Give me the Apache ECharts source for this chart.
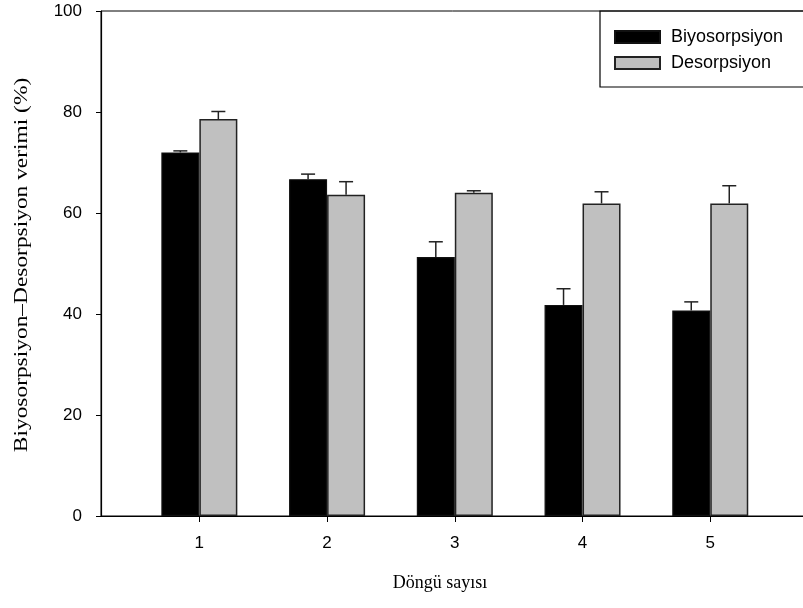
<!DOCTYPE html>
<html>
<head>
<meta charset="utf-8">
<script src="https://cdn.jsdelivr.net/npm/echarts@6/dist/echarts.min.js"></script>
<style>
html,body{margin:0;padding:0;background:#fff;}
#chart{width:803px;height:608px;}
</style>
</head>
<body>
<div id="chart"></div>
<script>
const categories = [1, 2, 3, 4, 5];
const biyoValues = [72.0, 66.7, 51.3, 41.8, 40.7];
const biyoErrors = [0.3, 1.0, 3.0, 3.2, 1.7];
const desoValues = [78.6, 63.6, 64.0, 61.9, 61.9];
const desoErrors = [1.5, 2.6, 0.4, 2.3, 3.5];
const yTicks = [0, 20, 40, 60, 80, 100];
const xTitle = 'Döngü sayısı';
const yTitle = 'Biyosorpsiyon–Desorpsiyon verimi (%)';

const BAR_W = 38;

function errSeries(values, errors, dx) {
  return {
    type: 'custom',
    z: 5,
    silent: true,
    data: categories.map((c, i) => [c, values[i], errors[i]]),
    encode: { x: 0, y: 1 },
    renderItem: function (params, api) {
      const x = api.value(0), y = api.value(1), e = api.value(2);
      const p0 = api.coord([x, y]);
      const p1 = api.coord([x, y + e]);
      const cx = p0[0] + dx;
      const style = { stroke: '#222', lineWidth: 1.5 };
      return {
        type: 'group',
        children: [
          { type: 'line', shape: { x1: cx, y1: p0[1], x2: cx, y2: p1[1] }, style: style },
          { type: 'line', shape: { x1: cx - 7, y1: p1[1], x2: cx + 7, y2: p1[1] }, style: style }
        ]
      };
    }
  };
}

const chart = echarts.init(document.getElementById('chart'));
chart.setOption({
  animation: false,
  backgroundColor: '#fff',
  grid: {
    left: 101, right: -12, top: 11, bottom: 92,
    outerBoundsMode: 'none',
    containLabel: false,
    show: true, borderColor: '#000', borderWidth: 1
  },
  graphic: [
    {
      type: 'text',
      x: 22, y: 265,
      rotation: Math.PI / 2,
      scaleX: 1.3,
      style: {
        text: yTitle,
        font: '18px "Liberation Serif", "Times New Roman", serif',
        fill: '#000',
        textAlign: 'center',
        textVerticalAlign: 'middle'
      }
    }
  ],
  legend: {
    orient: 'vertical',
    left: 600, top: 11,
    data: ['Biyosorpsiyon', 'Desorpsiyon'],
    itemWidth: 45, itemHeight: 12, itemGap: 8,
    borderColor: '#000', borderWidth: 1.2,
    padding: [17, 80, 15, 14],
    icon: 'rect',
    textStyle: { fontFamily: 'Liberation Sans, Arial', fontSize: 18, color: '#000', padding: [0, 0, 0, 6] }
  },
  xAxis: {
    type: 'value',
    min: 0.23, max: 5.82,
    name: xTitle,
    nameLocation: 'middle',
    nameGap: 58,
    nameTextStyle: { fontFamily: 'Liberation Serif, Times New Roman', fontSize: 18, color: '#000', padding: [0, 36, 0, 0] },
    splitLine: { show: false },
    axisLine: { show: true, onZero: false, lineStyle: { color: '#000', width: 1.2 } },
    axisTick: { show: true, customValues: categories, length: 6, lineStyle: { color: '#000' } },
    axisLabel: { customValues: categories, margin: 19, fontFamily: 'Liberation Sans, Arial', fontSize: 17, color: '#000' }
  },
  yAxis: {
    type: 'value',
    min: 0, max: 100, interval: 20,
    splitLine: { show: false },
    axisLine: { show: true, lineStyle: { color: '#000', width: 1.2 } },
    axisTick: { show: true, length: 5, lineStyle: { color: '#000' } },
    axisLabel: { margin: 19, fontFamily: 'Liberation Sans, Arial', fontSize: 17, color: '#000',
      customValues: yTicks }
  },
  series: [
    {
      name: 'Biyosorpsiyon',
      type: 'bar',
      barWidth: BAR_W,
      barGap: '0%',
      data: categories.map((c, i) => [c, biyoValues[i]]),
      itemStyle: { color: '#000', borderColor: '#111', borderWidth: 1.2 }
    },
    {
      name: 'Desorpsiyon',
      type: 'bar',
      barWidth: BAR_W,
      barGap: '0%',
      data: categories.map((c, i) => [c, desoValues[i]]),
      itemStyle: { color: '#c0c0c0', borderColor: '#222', borderWidth: 1.5 }
    },
    errSeries(biyoValues, biyoErrors, -BAR_W / 2),
    errSeries(desoValues, desoErrors, BAR_W / 2)
  ]
});
</script>
</body>
</html>
